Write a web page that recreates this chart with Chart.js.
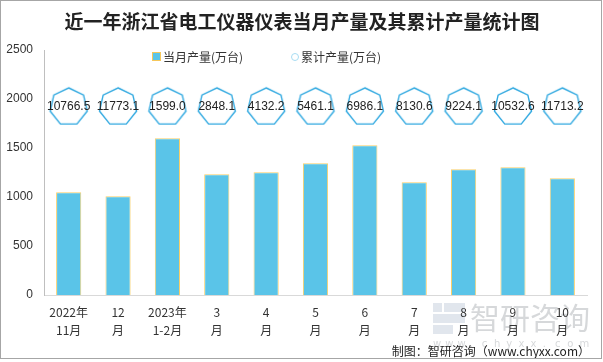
<!DOCTYPE html>
<html>
<head>
<meta charset="utf-8">
<script src="https://cdn.jsdelivr.net/npm/chart.js@4/dist/chart.umd.min.js"></script>
<style>
  html, body { margin: 0; padding: 0; background: #fff; }
  #wrap { position: relative; width: 603px; height: 362px; }
  #frame { position: absolute; left: 0; top: 0; width: 600px; height: 357px; border: 1px solid #a6a6a6; pointer-events: none; }
</style>
</head>
<body>
<div id="wrap">
  <canvas id="chart" width="603" height="362"></canvas>
  <div id="frame"></div>
</div>
<script>
'use strict';

/* ── Data ── */
const categories  = [['2022年', '11月'], ['12', '月'], ['2023年', '1-2月'], ['3', '月'], ['4', '月'], ['5', '月'],
                     ['6', '月'], ['7', '月'], ['8', '月'], ['9', '月'], ['10', '月']];
const monthly     = [1048, 1007, 1599, 1232, 1252, 1344, 1527, 1150, 1283, 1303, 1191];
const cumulative  = [10766.5, 11773.1, 1599.0, 2848.1, 4132.2, 5461.1, 6986.1, 8130.6, 9224.1, 10532.6, 11713.2];
const markerLevel = 1930;   // heptagon row sits at a fixed height on the value axis
const yTicks      = [0, 500, 1000, 1500, 2000, 2500];

const TITLE  = '近一年浙江省电工仪器仪表当月产量及其累计产量统计图';
const SOURCE = '制图：智研咨询（www.chyxx.com）';
const FONT   = '"Noto Sans CJK SC", "Liberation Sans", sans-serif';

/* ── Heptagon marker image ── */
function heptagon(r) {
  const c = document.createElement('canvas');
  const size = Math.ceil(r * 2 + 4);
  c.width = size; c.height = size;
  const g = c.getContext('2d');
  g.strokeStyle = '#2fa8e0';
  g.lineWidth = 1.4;
  g.beginPath();
  for (let i = 0; i < 7; i++) {
    const a = -Math.PI / 2 + i * 2 * Math.PI / 7;
    const px = size / 2 + r * Math.cos(a);
    const py = size / 2 + 1 + r * Math.sin(a);
    i ? g.lineTo(px, py) : g.moveTo(px, py);
  }
  g.closePath();
  g.stroke();
  return c;
}

/* ── Title, legend, labels, watermark ── */
const decor = {
  id: 'decor',
  beforeDraw(chart) {
    const ctx = chart.ctx;
    ctx.save();
    // watermark
    ctx.globalAlpha = 0.35;
    ctx.fillStyle = '#a9b8cc';
    ctx.fillRect(433, 303, 9, 9);
    ctx.fillRect(444, 303, 21, 9);
    ctx.fillRect(433, 314, 32, 9);
    ctx.fillRect(433, 325, 20, 9);
    ctx.fillStyle = '#8a9096';
    ctx.font = '30px ' + FONT;
    ctx.textAlign = 'left';
    ctx.textBaseline = 'middle';
    ctx.fillText('智研咨询', 470, 318);
    ctx.font = '10px "DejaVu Sans", sans-serif';
    const site = 'www.chyxx.com';
    for (let i = 0; i < site.length; i++) ctx.fillText(site[i], 433 + i * 12.2, 344);
    ctx.restore();
  },
  afterDatasetsDraw(chart) {
    const ctx = chart.ctx;
    ctx.save();
    // values inside heptagons
    const meta = chart.getDatasetMeta(1);
    ctx.fillStyle = '#222';
    ctx.font = '12px "Liberation Sans", sans-serif';
    ctx.textAlign = 'center';
    ctx.textBaseline = 'middle';
    meta.data.forEach((pt, i) => ctx.fillText(cumulative[i].toFixed(1), pt.x, pt.y + 1));

    // title
    ctx.fillStyle = '#222';
    ctx.font = 'bold 19px ' + FONT;
    ctx.fillText(TITLE, 302, 22);

    // legend
    ctx.font = '12px ' + FONT;
    ctx.textAlign = 'left';
    ctx.fillStyle = '#5ac4e8';
    ctx.fillRect(153, 53, 7, 7);
    ctx.strokeStyle = '#f6c75a';
    ctx.lineWidth = 1;
    ctx.strokeRect(152.5, 52.5, 8, 8);
    ctx.fillStyle = '#333';
    ctx.fillText(chart.data.datasets[0].label, 163, 57);
    ctx.strokeStyle = '#a7dcf2';
    ctx.beginPath();
    ctx.arc(295, 57, 3.5, 0, Math.PI * 2);
    ctx.stroke();
    ctx.fillText(chart.data.datasets[1].label, 301, 57);

    // source
    ctx.textAlign = 'right';
    ctx.fillStyle = '#222';
    ctx.font = '12px ' + FONT;
    ctx.fillText(SOURCE, 590, 351);
    ctx.restore();
  }
};

new Chart(document.getElementById('chart'), {
  data: {
    labels: categories,
    datasets: [
      {
        type: 'bar',
        label: '当月产量(万台)',
        data: monthly,
        backgroundColor: '#5ac4e8',
        borderColor: '#f8cf6a',
        borderWidth: 1,
        barPercentage: 0.51,
        categoryPercentage: 1,
        order: 2,
      },
      {
        type: 'line',
        label: '累计产量(万台)',
        data: cumulative.map(() => markerLevel),
        showLine: false,
        pointStyle: heptagon(19),
        order: 1,
      },
    ],
  },
  options: {
    responsive: false,
    animation: false,
    layout: { padding: { top: 50, right: 16, bottom: 0, left: 0 } },
    plugins: {
      legend: { display: false },
      title: { display: false },
      tooltip: { enabled: false },
    },
    scales: {
      x: {
        grid: { display: false, drawTicks: false },
        border: { color: '#d9d9d9' },
        ticks: { color: '#333', font: { size: 12, family: FONT, lineHeight: 1.5 }, padding: 8, maxRotation: 0, autoSkip: false },
        afterFit: s => { s.height = 67; },
      },
      y: {
        min: 0,
        max: 2500,
        afterBuildTicks: s => { s.ticks = yTicks.map(v => ({ value: v })); },
        grid: { display: false, drawTicks: false },
        border: { color: '#bfbfbf' },
        ticks: { color: '#333', font: { size: 12, family: '"Liberation Sans", sans-serif' }, padding: 11, callback: v => String(v) },
        afterFit: s => { s.width = 44; },
      },
    },
  },
  plugins: [decor],
});
</script>
</body>
</html>
